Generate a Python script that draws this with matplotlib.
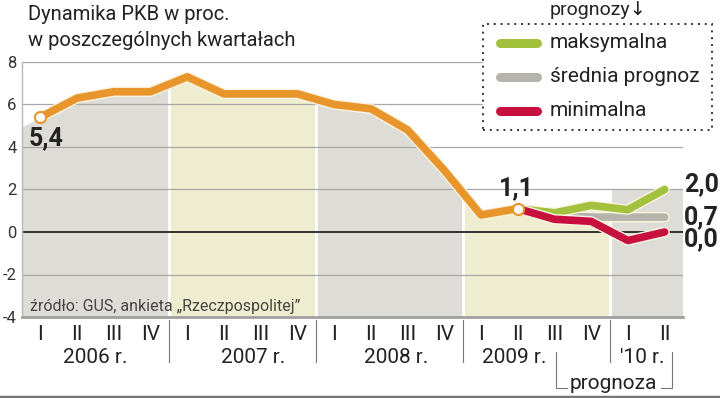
import numpy as np
import matplotlib
matplotlib.use('Agg')
from matplotlib import pyplot as plt
from matplotlib import patheffects as pe
from matplotlib.lines import Line2D
from matplotlib.patches import Rectangle

plt.rcParams['font.family'] = ['Roboto', 'DejaVu Sans']

# dane
quarters = ['I', 'II', 'III', 'IV'] * 4 + ['I', 'II']
years = ['2006 r.', '2007 r.', '2008 r.', '2009 r.', "'10 r."]
year_pos = [1.5, 5.8, 9.7, 12.9, 16.4]
gdp = [5.4, 6.3, 6.6, 6.6, 7.3, 6.5, 6.5, 6.5, 6.0, 5.8, 4.8, 2.9, 0.8, 1.1]
fc_max = [1.1, 0.9, 1.25, 1.05, 2.0]
fc_avg = [1.1, 0.8, 0.7, 0.7, 0.7]
fc_min = [1.1, 0.6, 0.5, -0.4, 0.0]

ORANGE = '#e8952c'
GREEN = '#a2c13d'
GREY = '#b4b4ac'
RED = '#c8103e'
BAND_G = '#dddcd6'
BAND_Y = '#eeedd0'
TXT = '#222222'

W, H = 720, 398
fx = lambda x: x / W
fy = lambda y: 1 - y / H

fig = plt.figure(figsize=(7.2, 3.98), dpi=100)
ax = fig.add_axes([fx(22), fy(317), (683 - 22) / W, (317 - 62) / H])

x_hist = np.arange(len(gdp))
x_fc = np.arange(len(gdp) - 1, len(gdp) - 1 + len(fc_max))

# tlo pod linia - pasy lat
env_x = np.concatenate([[-0.5], x_hist, x_fc[1:]])
env_y = np.concatenate([[gdp[0] - 0.5 * (gdp[1] - gdp[0])], gdp, fc_max[1:]])
bands = [(-0.5, 3.5, BAND_G), (3.5, 7.5, BAND_Y), (7.5, 11.5, BAND_G), (11.5, 15.5, BAND_Y)]
for a, b, c in bands:
    xs = np.concatenate([[a], env_x[(env_x > a) & (env_x < b)], [b]])
    ys = np.interp(xs, env_x, env_y)
    ax.fill_between(xs, -4, ys, color=c, lw=0, zorder=1)
ax.add_patch(Rectangle((15.5, -4), 2.0, fc_max[-1] + 4, color=BAND_G, lw=0, zorder=1))
for b in [3.5, 7.5, 11.5, 15.5]:
    ax.axvline(b, color='white', lw=2, zorder=1.5)

# siatka
for v in [8, 6, 4, 2, -2]:
    ax.axhline(v, color='#a8a8a8', lw=0.9, zorder=2)
ax.axhline(0, color='#222222', lw=1.3, zorder=2)

stroke = [pe.Stroke(linewidth=7.5, foreground='#fbf3e0'), pe.Normal()]
ax.plot(x_fc, fc_avg, color=GREY, lw=5.5, solid_capstyle='round', solid_joinstyle='round', path_effects=stroke, zorder=4)
ax.plot(x_fc, fc_max, color=GREEN, lw=5.5, solid_capstyle='round', solid_joinstyle='round', path_effects=stroke, zorder=5)
ax.plot(x_fc, fc_min, color=RED, lw=5.5, solid_capstyle='round', solid_joinstyle='round', path_effects=stroke, zorder=6)
ax.plot(x_hist, gdp, color=ORANGE, lw=5.5, solid_capstyle='round', solid_joinstyle='round', path_effects=stroke, zorder=7)
ax.plot([x_hist[0], x_hist[-1]], [gdp[0], gdp[-1]], 'o', ms=8, mfc='white', mec=ORANGE, mew=1.5, zorder=8)

# etykiety wartosci
ax.annotate('5,4', (0, gdp[0]), xytext=(4, -15), textcoords='offset points', ha='center', va='center',
            fontsize=18, fontweight='bold', color=TXT, zorder=9)
ax.annotate('1,1', (x_hist[-1], gdp[-1]), xytext=(-1, 15), textcoords='offset points', ha='center', va='center',
            fontsize=18, fontweight='bold', color=TXT, zorder=9)
for val, dy in [(fc_max[-1], 4), (fc_avg[-1], 0), (fc_min[-1], -5)]:
    ax.annotate(('%.1f' % val).replace('.', ','), (17.5, val), xytext=(0.5, dy), textcoords='offset points',
                ha='left', va='center', fontsize=18, fontweight='bold', color=TXT, annotation_clip=False)

ax.set_xlim(-0.5, 17.5)
ax.set_ylim(-4, 8)
ax.set_yticks([8, 6, 4, 2, 0, -2, -4])
ax.set_yticklabels(['8', '6', '4', '2', '0', '-2', '-4'])
ax.set_xticks(range(len(quarters)))
ax.set_xticklabels(quarters)
ax.tick_params(axis='y', length=0, pad=4, labelsize=12, labelcolor='#333333')
ax.tick_params(axis='x', length=0, pad=6, labelsize=15, labelcolor=TXT)
for s in ['top', 'right']:
    ax.spines[s].set_visible(False)
ax.spines['left'].set_color('#b8b8b8')
ax.spines['left'].set_linewidth(1)
ax.spines['bottom'].set_color('#a0a0a0')
ax.spines['bottom'].set_linewidth(2)
ax.set_facecolor('white')

# lata i separatory pod osia
for lab, xp in zip(years, year_pos):
    ax.annotate(lab, (xp, 0), xycoords=('data', 'axes fraction'), xytext=(0, -29), textcoords='offset points',
                ha='center', va='center', fontsize=15, color=TXT, annotation_clip=False)
for b in [3.5, 7.5, 11.5, 15.5]:
    ax.plot([b, b], [-0.012, -0.176], color='#777777', lw=0.8, transform=ax.get_xaxis_transform(), clip_on=False)

# prognoza - klamra
tr = ax.get_xaxis_transform()
ax.plot([14.05, 14.05, 14.35], [-0.137, -0.278, -0.278], color='#777777', lw=0.8, transform=tr, clip_on=False)
ax.plot([16.9, 17.2, 17.2], [-0.278, -0.278, -0.137], color='#777777', lw=0.8, transform=tr, clip_on=False)
ax.text(15.6, -0.262, 'prognoza', transform=tr, ha='center', va='center', fontsize=15, color=TXT)

# zrodlo
ax.text(0.012, 0.04, 'źródło: GUS, ankieta „Rzeczpospolitej”', transform=ax.transAxes, fontsize=11.5,
        color='#444444', ha='left', va='center', zorder=9)

# tytul
fig.text(fx(28), fy(15), 'Dynamika PKB w proc.', fontsize=14.5, color=TXT, ha='left', va='center')
fig.text(fx(28), fy(41), 'w poszczególnych kwartałach', fontsize=14.5, color=TXT, ha='left', va='center')

# legenda
fig.add_artist(Rectangle((fx(483), fy(130)), fx(712) - fx(483), fy(24) - fy(130), facecolor='white',
                         edgecolor='#333333', lw=1.4, ls=(0, (1, 2.5)), zorder=10))
fig.text(fx(550), fy(10), 'prognozy\u2193', fontsize=14, color=TXT, ha='left', va='center')
for yy, c, lab in [(43, GREEN, 'maksymalna'), (77, GREY, 'średnia prognoz'), (111, RED, 'minimalna')]:
    fig.add_artist(Line2D([fx(500), fx(537)], [fy(yy), fy(yy)], color=c, lw=6.5, solid_capstyle='round', zorder=11))
    fig.text(fx(550), fy(yy - 1), lab, fontsize=15, color=TXT, ha='left', va='center', zorder=11)

fig.add_artist(Line2D([0, 1], [fy(396.5), fy(396.5)], color='#777777', lw=2.5))

fig.savefig('out.png', dpi=100)
